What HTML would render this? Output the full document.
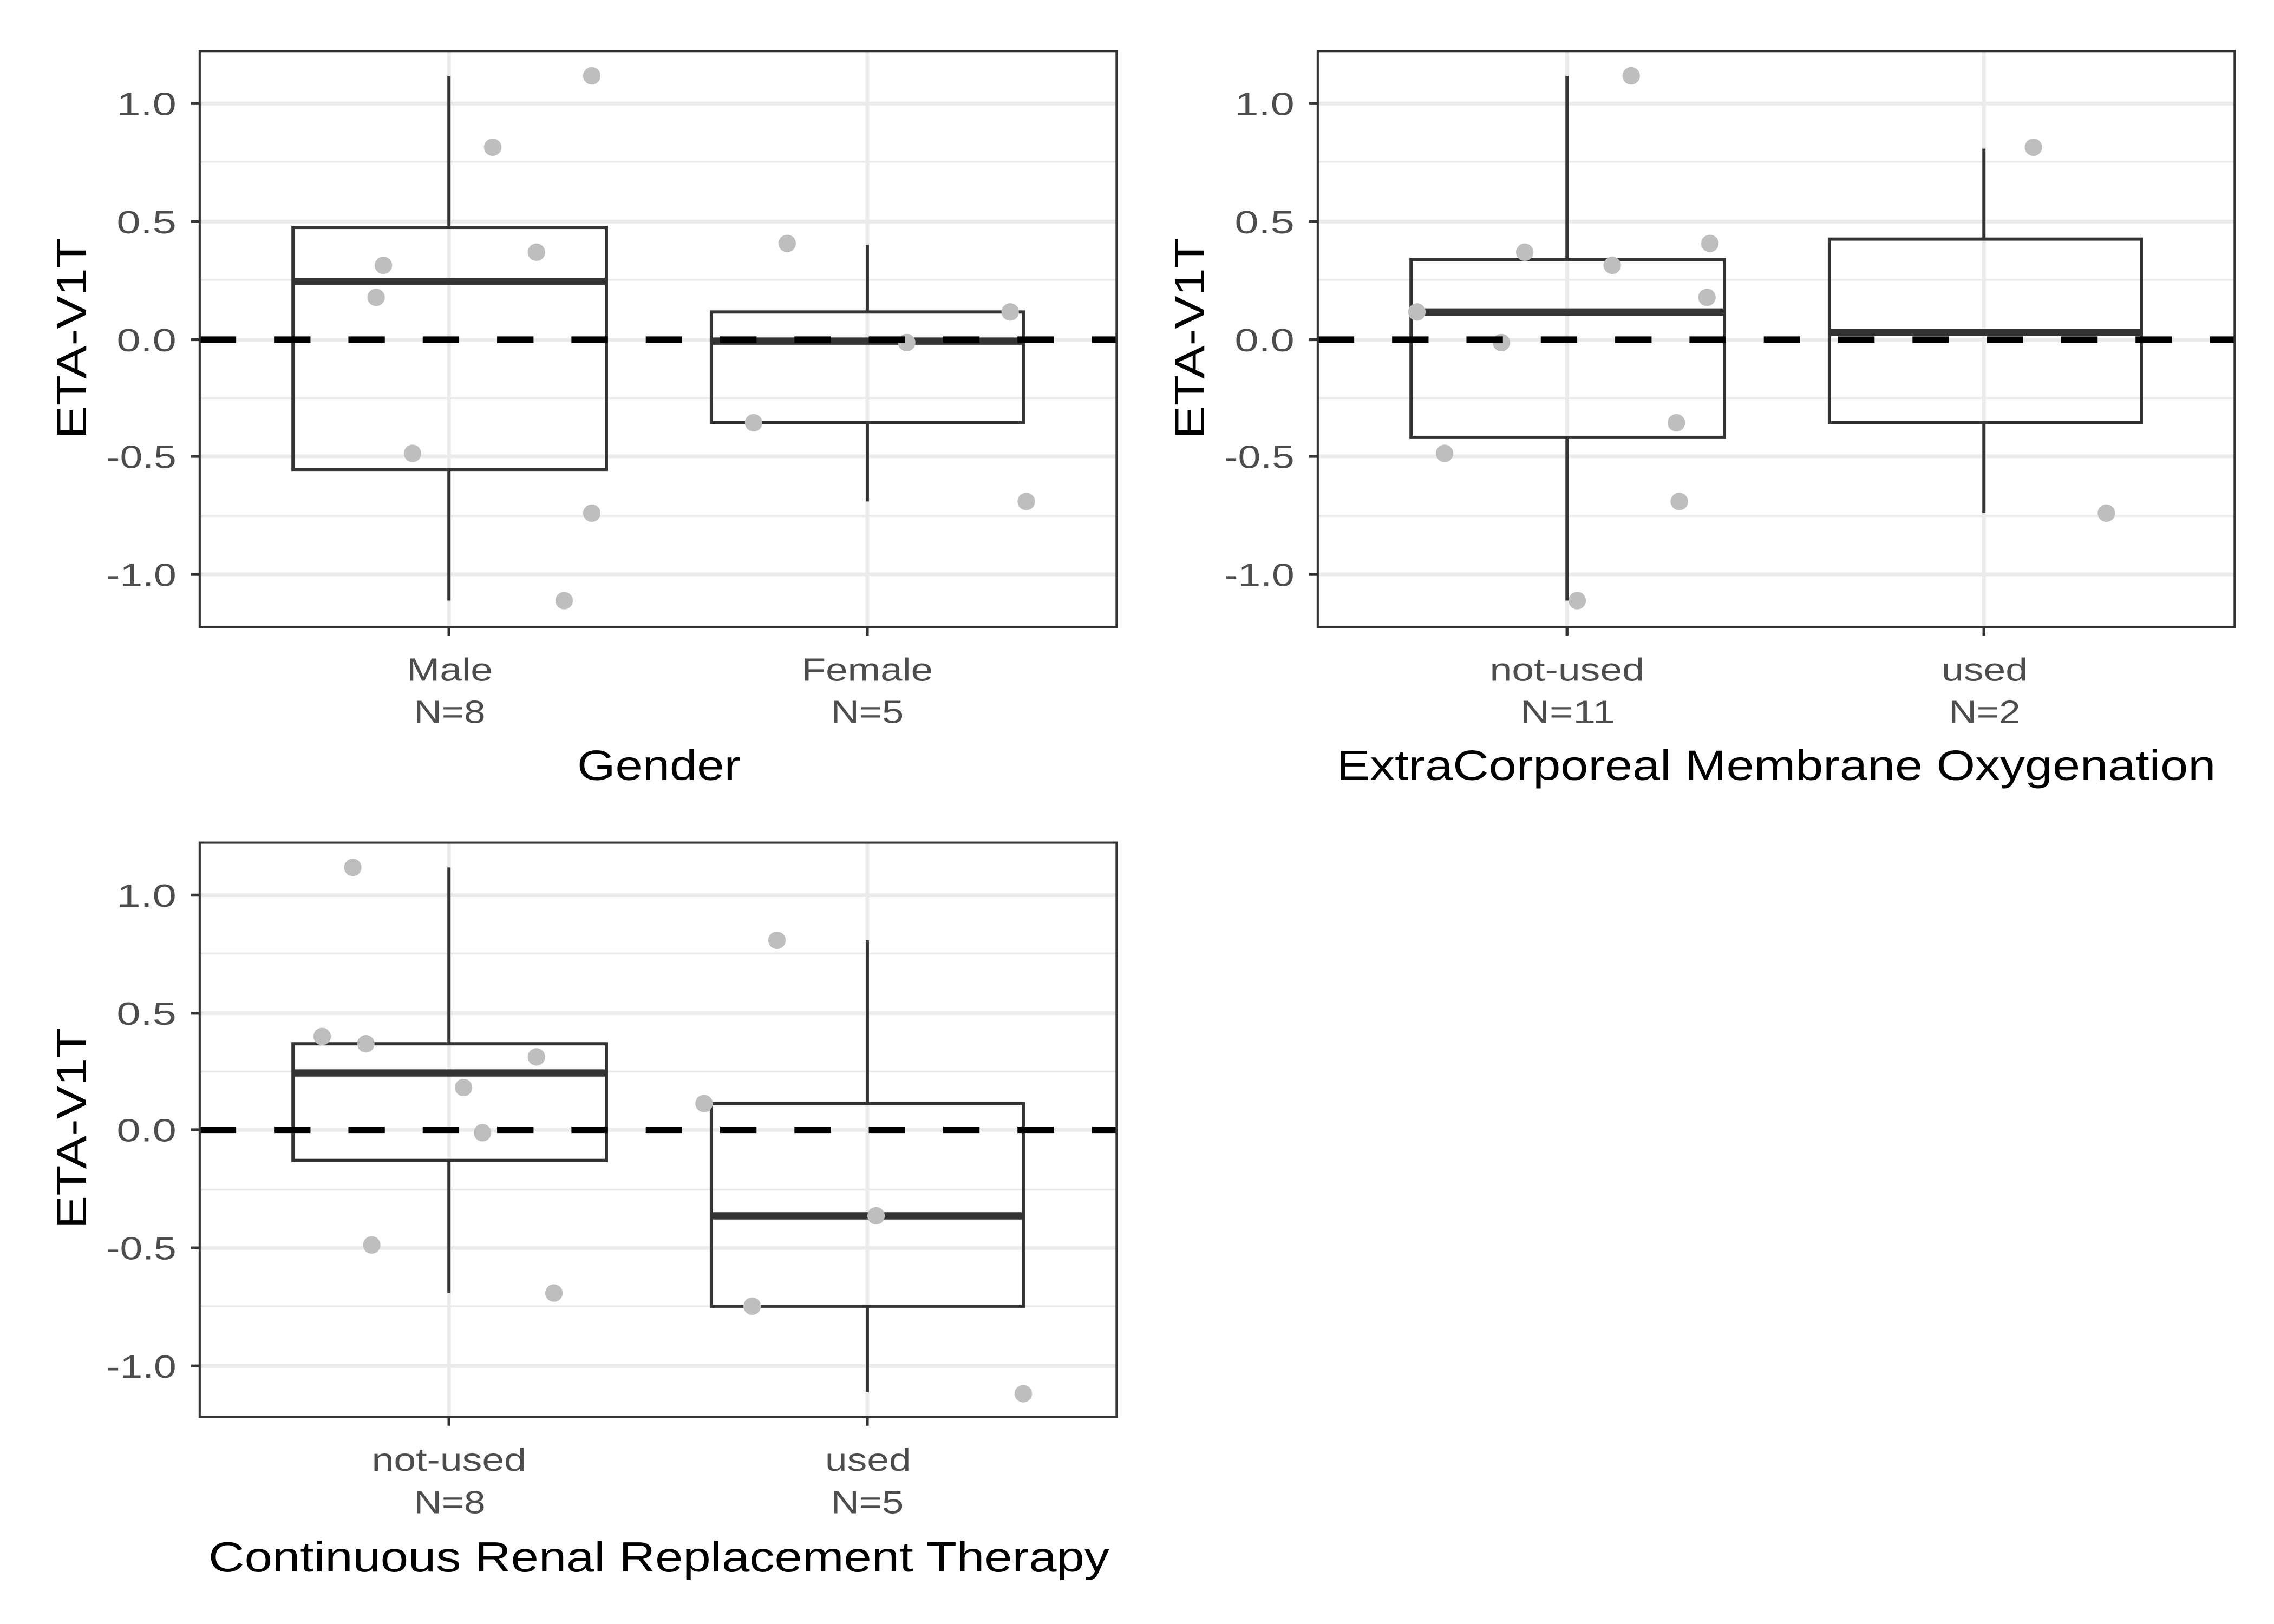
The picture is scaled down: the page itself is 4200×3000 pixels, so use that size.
<!DOCTYPE html>
<html><head><meta charset="utf-8"><style>html,body{margin:0;padding:0;background:#fff}svg{display:block}</style></head>
<body>
<svg width="4200" height="3000" viewBox="0 0 1560 1114" preserveAspectRatio="none" xmlns="http://www.w3.org/2000/svg" font-family="Liberation Sans, sans-serif">

<!-- PANEL 1 -->
<g>
  <g stroke="#ebebeb" stroke-width="1.3">
    <line x1="137" x2="766" y1="111" y2="111"/><line x1="137" x2="766" y1="192" y2="192"/>
    <line x1="137" x2="766" y1="273" y2="273"/><line x1="137" x2="766" y1="354" y2="354"/>
  </g>
  <g stroke="#ebebeb" stroke-width="2.6">
    <line x1="137" x2="766" y1="71" y2="71"/><line x1="137" x2="766" y1="152" y2="152"/>
    <line x1="137" x2="766" y1="233" y2="233"/><line x1="137" x2="766" y1="313" y2="313"/>
    <line x1="137" x2="766" y1="394" y2="394"/>
    <line x1="308" x2="308" y1="35" y2="430"/><line x1="595" x2="595" y1="35" y2="430"/>
  </g>
  <g stroke="#333" stroke-width="2.2" fill="none">
    <line x1="308" x2="308" y1="52" y2="156"/><line x1="308" x2="308" y1="322" y2="412"/>
    <rect x="201" y="156" width="215" height="166"/>
    <line x1="595" x2="595" y1="168" y2="214"/><line x1="595" x2="595" y1="290" y2="344"/>
    <rect x="488" y="214" width="214" height="76"/>
  </g>
  <line x1="201" x2="416" y1="193" y2="193" stroke="#333" stroke-width="5"/>
  <line x1="488" x2="702" y1="234" y2="234" stroke="#333" stroke-width="5"/>
  <g fill="#bebebe">
    <circle cx="258" cy="204" r="6"/><circle cx="263" cy="182" r="6"/><circle cx="283" cy="311" r="6"/>
    <circle cx="338" cy="101" r="6"/><circle cx="368" cy="173" r="6"/><circle cx="387" cy="412" r="6"/>
    <circle cx="406" cy="352" r="6"/><circle cx="406" cy="52" r="6"/>
    <circle cx="517" cy="290" r="6"/><circle cx="540" cy="167" r="6"/><circle cx="622" cy="235" r="6"/>
    <circle cx="693" cy="214" r="6"/><circle cx="704" cy="344" r="6"/>
  </g>
  <line x1="137" x2="766" y1="233" y2="233" stroke="#000" stroke-width="4.5" stroke-dasharray="25 26"/>
  <rect x="137" y="35" width="629" height="395" fill="none" stroke="#333" stroke-width="1.5"/>
  <g stroke="#333" stroke-width="2">
    <line x1="131" x2="137" y1="71" y2="71"/><line x1="131" x2="137" y1="152" y2="152"/>
    <line x1="131" x2="137" y1="233" y2="233"/><line x1="131" x2="137" y1="313" y2="313"/>
    <line x1="131" x2="137" y1="394" y2="394"/>
    <line x1="308" x2="308" y1="430" y2="436"/><line x1="595" x2="595" y1="430" y2="436"/>
  </g>
  <g fill="#4d4d4d" font-size="22" lengthAdjust="spacingAndGlyphs">
    <text x="80" y="79" textLength="41" lengthAdjust="spacingAndGlyphs">1.0</text>
    <text x="80" y="160" textLength="41" lengthAdjust="spacingAndGlyphs">0.5</text>
    <text x="80" y="241" textLength="41" lengthAdjust="spacingAndGlyphs">0.0</text>
    <text x="73" y="321" textLength="48" lengthAdjust="spacingAndGlyphs">-0.5</text>
    <text x="73" y="402" textLength="48" lengthAdjust="spacingAndGlyphs">-1.0</text>
  </g>
  <g fill="#4d4d4d" font-size="22">
    <text x="279" y="467" textLength="59" lengthAdjust="spacingAndGlyphs">Male</text>
    <text x="284" y="496" textLength="49" lengthAdjust="spacingAndGlyphs">N=8</text>
    <text x="550" y="467" textLength="90" lengthAdjust="spacingAndGlyphs">Female</text>
    <text x="570" y="496" textLength="50" lengthAdjust="spacingAndGlyphs">N=5</text>
  </g>
  <text x="396" y="535" font-size="29" textLength="112" lengthAdjust="spacingAndGlyphs">Gender</text>
  <text transform="translate(59,301) rotate(-90)" font-size="29" textLength="138" lengthAdjust="spacingAndGlyphs">ETA-V1T</text>
</g>

<!-- PANEL 2 -->
<g>
  <g stroke="#ebebeb" stroke-width="1.3">
    <line x1="904" x2="1533" y1="111" y2="111"/><line x1="904" x2="1533" y1="192" y2="192"/>
    <line x1="904" x2="1533" y1="273" y2="273"/><line x1="904" x2="1533" y1="354" y2="354"/>
  </g>
  <g stroke="#ebebeb" stroke-width="2.6">
    <line x1="904" x2="1533" y1="71" y2="71"/><line x1="904" x2="1533" y1="152" y2="152"/>
    <line x1="904" x2="1533" y1="233" y2="233"/><line x1="904" x2="1533" y1="313" y2="313"/>
    <line x1="904" x2="1533" y1="394" y2="394"/>
    <line x1="1075" x2="1075" y1="35" y2="430"/><line x1="1361" x2="1361" y1="35" y2="430"/>
  </g>
  <g stroke="#333" stroke-width="2.2" fill="none">
    <line x1="1075" x2="1075" y1="52" y2="178"/><line x1="1075" x2="1075" y1="300" y2="412"/>
    <rect x="968" y="178" width="215" height="122"/>
    <line x1="1361" x2="1361" y1="102" y2="164"/><line x1="1361" x2="1361" y1="290" y2="352"/>
    <rect x="1255" y="164" width="214" height="126"/>
  </g>
  <line x1="968" x2="1183" y1="214" y2="214" stroke="#333" stroke-width="5"/>
  <line x1="1255" x2="1469" y1="228" y2="228" stroke="#333" stroke-width="5"/>
  <g fill="#bebebe">
    <circle cx="972" cy="214" r="6"/><circle cx="991" cy="311" r="6"/><circle cx="1030" cy="235" r="6"/>
    <circle cx="1046" cy="173" r="6"/><circle cx="1082" cy="412" r="6"/><circle cx="1106" cy="182" r="6"/>
    <circle cx="1119" cy="52" r="6"/><circle cx="1150" cy="290" r="6"/><circle cx="1152" cy="344" r="6"/>
    <circle cx="1171" cy="204" r="6"/><circle cx="1173" cy="167" r="6"/>
    <circle cx="1395" cy="101" r="6"/><circle cx="1445" cy="352" r="6"/>
  </g>
  <line x1="904" x2="1533" y1="233" y2="233" stroke="#000" stroke-width="4.5" stroke-dasharray="25 26"/>
  <rect x="904" y="35" width="629" height="395" fill="none" stroke="#333" stroke-width="1.5"/>
  <g stroke="#333" stroke-width="2">
    <line x1="898" x2="904" y1="71" y2="71"/><line x1="898" x2="904" y1="152" y2="152"/>
    <line x1="898" x2="904" y1="233" y2="233"/><line x1="898" x2="904" y1="313" y2="313"/>
    <line x1="898" x2="904" y1="394" y2="394"/>
    <line x1="1075" x2="1075" y1="430" y2="436"/><line x1="1361" x2="1361" y1="430" y2="436"/>
  </g>
  <g fill="#4d4d4d" font-size="22">
    <text x="847" y="79" textLength="41" lengthAdjust="spacingAndGlyphs">1.0</text>
    <text x="847" y="160" textLength="41" lengthAdjust="spacingAndGlyphs">0.5</text>
    <text x="847" y="241" textLength="41" lengthAdjust="spacingAndGlyphs">0.0</text>
    <text x="840" y="321" textLength="48" lengthAdjust="spacingAndGlyphs">-0.5</text>
    <text x="840" y="402" textLength="48" lengthAdjust="spacingAndGlyphs">-1.0</text>
  </g>
  <g fill="#4d4d4d" font-size="22">
    <text x="1022" y="467" textLength="106" lengthAdjust="spacingAndGlyphs">not-used</text>
    <text x="1043" y="496" textLength="65" lengthAdjust="spacingAndGlyphs">N=11</text>
    <text x="1332" y="467" textLength="59" lengthAdjust="spacingAndGlyphs">used</text>
    <text x="1337" y="496" textLength="49" lengthAdjust="spacingAndGlyphs">N=2</text>
  </g>
  <text x="917" y="535" font-size="29" textLength="603" lengthAdjust="spacingAndGlyphs">ExtraCorporeal Membrane Oxygenation</text>
  <text transform="translate(826,301) rotate(-90)" font-size="29" textLength="138" lengthAdjust="spacingAndGlyphs">ETA-V1T</text>
</g>

<!-- PANEL 3 -->
<g>
  <g stroke="#ebebeb" stroke-width="1.3">
    <line x1="137" x2="766" y1="654" y2="654"/><line x1="137" x2="766" y1="735" y2="735"/>
    <line x1="137" x2="766" y1="816" y2="816"/><line x1="137" x2="766" y1="896" y2="896"/>
  </g>
  <g stroke="#ebebeb" stroke-width="2.6">
    <line x1="137" x2="766" y1="614" y2="614"/><line x1="137" x2="766" y1="695" y2="695"/>
    <line x1="137" x2="766" y1="775" y2="775"/><line x1="137" x2="766" y1="856" y2="856"/>
    <line x1="137" x2="766" y1="937" y2="937"/>
    <line x1="308" x2="308" y1="578" y2="972"/><line x1="595" x2="595" y1="578" y2="972"/>
  </g>
  <g stroke="#333" stroke-width="2.2" fill="none">
    <line x1="308" x2="308" y1="595" y2="716"/><line x1="308" x2="308" y1="796" y2="887"/>
    <rect x="201" y="716" width="215" height="80"/>
    <line x1="595" x2="595" y1="645" y2="757"/><line x1="595" x2="595" y1="896" y2="955"/>
    <rect x="488" y="757" width="214" height="139"/>
  </g>
  <line x1="201" x2="416" y1="736" y2="736" stroke="#333" stroke-width="5"/>
  <line x1="488" x2="702" y1="834" y2="834" stroke="#333" stroke-width="5"/>
  <g fill="#bebebe">
    <circle cx="221" cy="711" r="6"/><circle cx="242" cy="595" r="6"/><circle cx="251" cy="716" r="6"/>
    <circle cx="255" cy="854" r="6"/><circle cx="318" cy="746" r="6"/><circle cx="331" cy="777" r="6"/>
    <circle cx="368" cy="725" r="6"/><circle cx="380" cy="887" r="6"/>
    <circle cx="483" cy="757" r="6"/><circle cx="516" cy="896" r="6"/><circle cx="533" cy="645" r="6"/>
    <circle cx="601" cy="834" r="6"/><circle cx="702" cy="956" r="6"/>
  </g>
  <line x1="137" x2="766" y1="775" y2="775" stroke="#000" stroke-width="4.5" stroke-dasharray="25 26"/>
  <rect x="137" y="578" width="629" height="394" fill="none" stroke="#333" stroke-width="1.5"/>
  <g stroke="#333" stroke-width="2">
    <line x1="131" x2="137" y1="614" y2="614"/><line x1="131" x2="137" y1="695" y2="695"/>
    <line x1="131" x2="137" y1="775" y2="775"/><line x1="131" x2="137" y1="856" y2="856"/>
    <line x1="131" x2="137" y1="937" y2="937"/>
    <line x1="308" x2="308" y1="972" y2="978"/><line x1="595" x2="595" y1="972" y2="978"/>
  </g>
  <g fill="#4d4d4d" font-size="22">
    <text x="80" y="622" textLength="41" lengthAdjust="spacingAndGlyphs">1.0</text>
    <text x="80" y="703" textLength="41" lengthAdjust="spacingAndGlyphs">0.5</text>
    <text x="80" y="783" textLength="41" lengthAdjust="spacingAndGlyphs">0.0</text>
    <text x="73" y="864" textLength="48" lengthAdjust="spacingAndGlyphs">-0.5</text>
    <text x="73" y="945" textLength="48" lengthAdjust="spacingAndGlyphs">-1.0</text>
  </g>
  <g fill="#4d4d4d" font-size="22">
    <text x="255" y="1009" textLength="106" lengthAdjust="spacingAndGlyphs">not-used</text>
    <text x="284" y="1038" textLength="49" lengthAdjust="spacingAndGlyphs">N=8</text>
    <text x="566" y="1009" textLength="59" lengthAdjust="spacingAndGlyphs">used</text>
    <text x="570" y="1038" textLength="50" lengthAdjust="spacingAndGlyphs">N=5</text>
  </g>
  <text x="143" y="1078" font-size="29" textLength="618" lengthAdjust="spacingAndGlyphs">Continuous Renal Replacement Therapy</text>
  <text transform="translate(59,843) rotate(-90)" font-size="29" textLength="138" lengthAdjust="spacingAndGlyphs">ETA-V1T</text>
</g>
</svg>
</body></html>
